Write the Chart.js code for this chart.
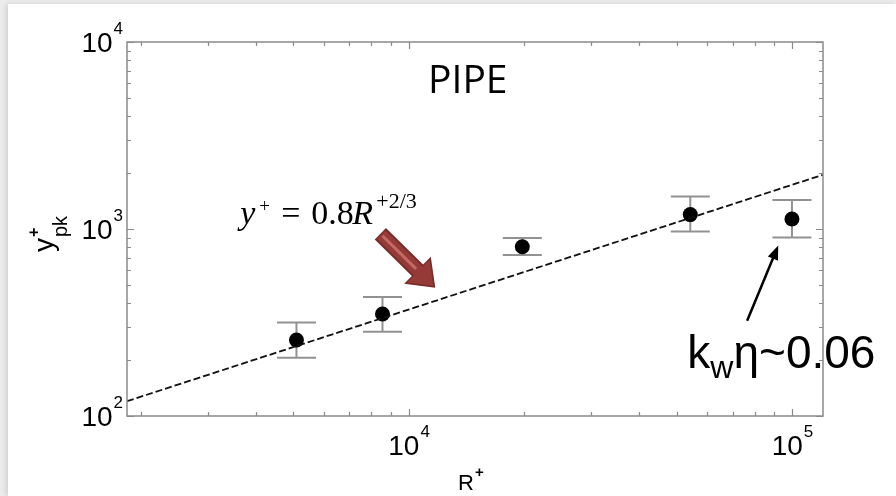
<!DOCTYPE html>
<html>
<head>
<meta charset="utf-8">
<script src="https://cdn.jsdelivr.net/npm/chart.js@4.4.1/dist/chart.umd.min.js"></script>
<style>
html, body { margin: 0; padding: 0; background: #ececec; }
#panel { position: absolute; left: 8px; top: 4px; width: 888px; height: 492px; background: #fff; box-shadow: -2px 0 5px rgba(0,0,0,0.12); }
canvas { display: block; }
</style>
</head>
<body>
<div id="panel"><canvas id="chart" width="888" height="492"></canvas></div>
<script>
const reTau = [5100, 8550, 19800, 54300, 100000];
const yPeak = [255, 351, 803, 1194, 1132];
const yLow  = [205, 282, 727, 970, 902];
const yHigh = [316, 433, 895, 1490, 1429];

// dashed reference line y+ = 0.8 R+^(2/3), end points read at the axes
const fitR = [1843, 120500];
const fitY = [120, 1950];

// axis limits and labelled decades
const xRange = [1843, 120500];
const yRange = [100, 10000];
const xTickValues = [1e4, 1e5];
const yTickValues = [1e2, 1e3, 1e4];

const AXIS_GREY = '#8a8a8a';
const SANS = '"Liberation Sans", Arial, sans-serif';
const SERIF = '"Liberation Serif", "Times New Roman", serif';

function logTicks(min, max) {
    const out = [];
    for (let e = Math.floor(Math.log10(min)); e <= Math.ceil(Math.log10(max)); e++) {
        for (let m = 1; m < 10; m++) {
            const v = m * Math.pow(10, e);
            if (v >= min * 0.999 && v <= max * 1.001) out.push({ v, major: m === 1 });
        }
    }
    return out;
}

function drawArrow(ctx, x0, y0, x1, y1, shaftW, headW, headL, fill) {
    const ang = Math.atan2(y1 - y0, x1 - x0);
    const len = Math.hypot(x1 - x0, y1 - y0);
    ctx.save();
    ctx.translate(x0, y0);
    ctx.rotate(ang);
    ctx.beginPath();
    ctx.moveTo(0, -shaftW / 2);
    ctx.lineTo(len - headL, -shaftW / 2);
    ctx.lineTo(len - headL, -headW / 2);
    ctx.lineTo(len, 0);
    ctx.lineTo(len - headL, headW / 2);
    ctx.lineTo(len - headL, shaftW / 2);
    ctx.lineTo(0, shaftW / 2);
    ctx.closePath();
    ctx.fillStyle = fill;
    ctx.fill();
    ctx.restore();
}

const figurePlugin = {
    id: 'figure',
    beforeDatasetsDraw(chart) {
        const { ctx, scales: { x, y } } = chart;
        // error bars
        ctx.save();
        ctx.strokeStyle = '#929292';
        ctx.lineWidth = 2;
        reTau.forEach((r, i) => {
            const px = x.getPixelForValue(r);
            const top = y.getPixelForValue(yHigh[i]);
            const bot = y.getPixelForValue(yLow[i]);
            ctx.beginPath();
            ctx.moveTo(px, top); ctx.lineTo(px, bot);
            ctx.moveTo(px - 19.5, top); ctx.lineTo(px + 19.5, top);
            ctx.moveTo(px - 19.5, bot); ctx.lineTo(px + 19.5, bot);
            ctx.stroke();
        });
        ctx.restore();
    },
    afterDatasetsDraw(chart) {
        const { ctx, chartArea: a, scales: { x, y } } = chart;
        ctx.save();

        // box and inward ticks on all four sides
        ctx.strokeStyle = AXIS_GREY;
        ctx.lineWidth = 1.5;
        ctx.strokeRect(a.left, a.top, a.right - a.left, a.bottom - a.top);
        ctx.lineWidth = 1.2;
        ctx.beginPath();
        logTicks(xRange[0], xRange[1]).forEach(t => {
            const px = Math.round(x.getPixelForValue(t.v)) + 0.5;
            const len = t.major ? 7 : 4;
            ctx.moveTo(px, a.bottom); ctx.lineTo(px, a.bottom - len);
            ctx.moveTo(px, a.top); ctx.lineTo(px, a.top + len);
        });
        logTicks(yRange[0], yRange[1]).forEach(t => {
            const py = Math.round(y.getPixelForValue(t.v)) + 0.5;
            const len = t.major ? 7 : 4;
            ctx.moveTo(a.left, py); ctx.lineTo(a.left + len, py);
            ctx.moveTo(a.right, py); ctx.lineTo(a.right - len, py);
        });
        ctx.stroke();

        // tick labels 10^n
        ctx.fillStyle = '#000';
        ctx.textBaseline = 'alphabetic';
        const big = '28px ' + SANS, small = '17px ' + SANS;
        xTickValues.forEach(v => {
            const px = x.getPixelForValue(v);
            const exp = String(Math.round(Math.log10(v)));
            ctx.font = big; const w1 = ctx.measureText('10').width;
            ctx.font = small; const w2 = ctx.measureText(exp).width;
            const x0 = px - (w1 + w2) / 2;
            ctx.font = big; ctx.textAlign = 'left';
            ctx.fillText('10', x0, a.bottom + 39);
            ctx.font = small;
            ctx.fillText(exp, x0 + w1 + 1, a.bottom + 21);
        });
        yTickValues.forEach(v => {
            const py = y.getPixelForValue(v);
            const exp = String(Math.round(Math.log10(v)));
            ctx.font = small; const w2 = ctx.measureText(exp).width;
            ctx.textAlign = 'left';
            const xe = a.left - 4 - w2;
            ctx.fillText(exp, xe, py - 8);
            ctx.font = big; ctx.textAlign = 'right';
            ctx.fillText('10', xe - 1, py + 10);
        });

        // x axis title R+
        ctx.textAlign = 'left';
        ctx.font = '22px ' + SANS;
        const cx = (a.left + a.right) / 2;
        const rw = ctx.measureText('R').width;
        ctx.fillText('R', cx - 17, a.bottom + 74);
        ctx.font = 'bold 15px ' + SANS;
        ctx.fillText('+', cx - 17 + rw + 1, a.bottom + 61);

        // y axis title y+_pk (rotated)
        ctx.save();
        ctx.translate(a.left - 74, 248);
        ctx.rotate(-Math.PI / 2);
        ctx.font = '28px ' + SANS;
        ctx.fillText('y', 0, 0);
        const yw = ctx.measureText('y').width;
        ctx.font = 'bold 16px ' + SANS;
        ctx.fillText('+', yw + 1, -14);
        ctx.font = '20px ' + SANS;
        ctx.fillText('pk', yw + 1, 14);
        ctx.restore();

        // PIPE
        ctx.font = '39px "Open Sans", ' + SANS;
        ctx.textAlign = 'center';
        ctx.fillText('PIPE', x.getPixelForValue(14270), y.getPixelForValue(5306));

        // formula y+ = 0.8 R+^(2/3)
        const fx = x.getPixelForValue(3640), fy = y.getPixelForValue(1060);
        ctx.textAlign = 'left';
        ctx.font = 'italic 34px ' + SERIF;
        ctx.fillText('y', fx, fy);
        ctx.font = '19px ' + SERIF;
        ctx.fillText('+', fx + 19, fy - 12);
        ctx.font = '34px ' + SERIF;
        ctx.fillText('=', fx + 41, fy);
        ctx.fillText('0.8', fx + 71, fy);
        ctx.font = 'italic 34px ' + SERIF;
        ctx.fillText('R', fx + 112, fy);
        ctx.font = '22px ' + SERIF;
        ctx.fillText('+2/3', fx + 136, fy - 16);

        // red block arrow pointing at the dashed line
        const r0x = x.getPixelForValue(8440), r0y = y.getPixelForValue(944);
        const r1x = x.getPixelForValue(11740), r1y = y.getPixelForValue(485);
        drawArrow(ctx, r0x, r0y, r1x, r1y, 16, 38, 25, '#7a2c2a');
        drawArrow(ctx, r0x + 1, r0y + 1, r1x - 2, r1y - 2, 12, 32, 21, '#953a37');
        ctx.strokeStyle = '#c46a66';
        ctx.lineWidth = 3;
        const ang = Math.atan2(r1y - r0y, r1x - r0x);
        const sl = Math.hypot(r1x - r0x, r1y - r0y) - 27;
        ctx.beginPath();
        ctx.moveTo(r0x + 3 * Math.cos(ang), r0y + 3 * Math.sin(ang));
        ctx.lineTo(r0x + sl * Math.cos(ang), r0y + sl * Math.sin(ang));
        ctx.stroke();

        // black arrow + label for the roughened case
        const b0x = x.getPixelForValue(76400), b0y = y.getPixelForValue(323);
        const b1x = x.getPixelForValue(92100), b1y = y.getPixelForValue(815);
        drawArrow(ctx, b0x, b0y, b1x, b1y, 2.5, 11, 14, '#000');

        ctx.fillStyle = '#000';
        ctx.textAlign = 'left';
        const kx = x.getPixelForValue(53350), ky = y.getPixelForValue(180.8);
        ctx.font = '46px ' + SANS;
        ctx.fillText('k', kx, ky);
        let cur = kx + ctx.measureText('k').width;
        ctx.font = '32px ' + SANS;
        ctx.fillText('w', cur, ky + 10);
        cur += ctx.measureText('w').width;
        ctx.font = '46px ' + SANS;
        ctx.fillText('\u03B7~0.06', cur, ky);

        ctx.restore();
    }
};

new Chart(document.getElementById('chart'), {
    type: 'scatter',
    data: {
        datasets: [
            {
                type: 'line',
                data: fitR.map((r, i) => ({ x: r, y: fitY[i] })),
                borderColor: '#111',
                borderWidth: 1.8,
                borderDash: [7, 3],
                pointRadius: 0,
                fill: false
            },
            {
                data: reTau.map((r, i) => ({ x: r, y: yPeak[i] })),
                backgroundColor: '#000',
                borderWidth: 0,
                pointRadius: 7.5
            }
        ]
    },
    options: {
        responsive: false,
        animation: false,
        layout: { padding: { left: 119, top: 38, right: 73, bottom: 80 } },
        plugins: { legend: { display: false }, tooltip: { enabled: false } },
        scales: {
            x: { type: 'logarithmic', display: false, min: xRange[0], max: xRange[1] },
            y: { type: 'logarithmic', display: false, min: yRange[0], max: yRange[1] }
        }
    },
    plugins: [figurePlugin]
});
</script>
</body>
</html>
